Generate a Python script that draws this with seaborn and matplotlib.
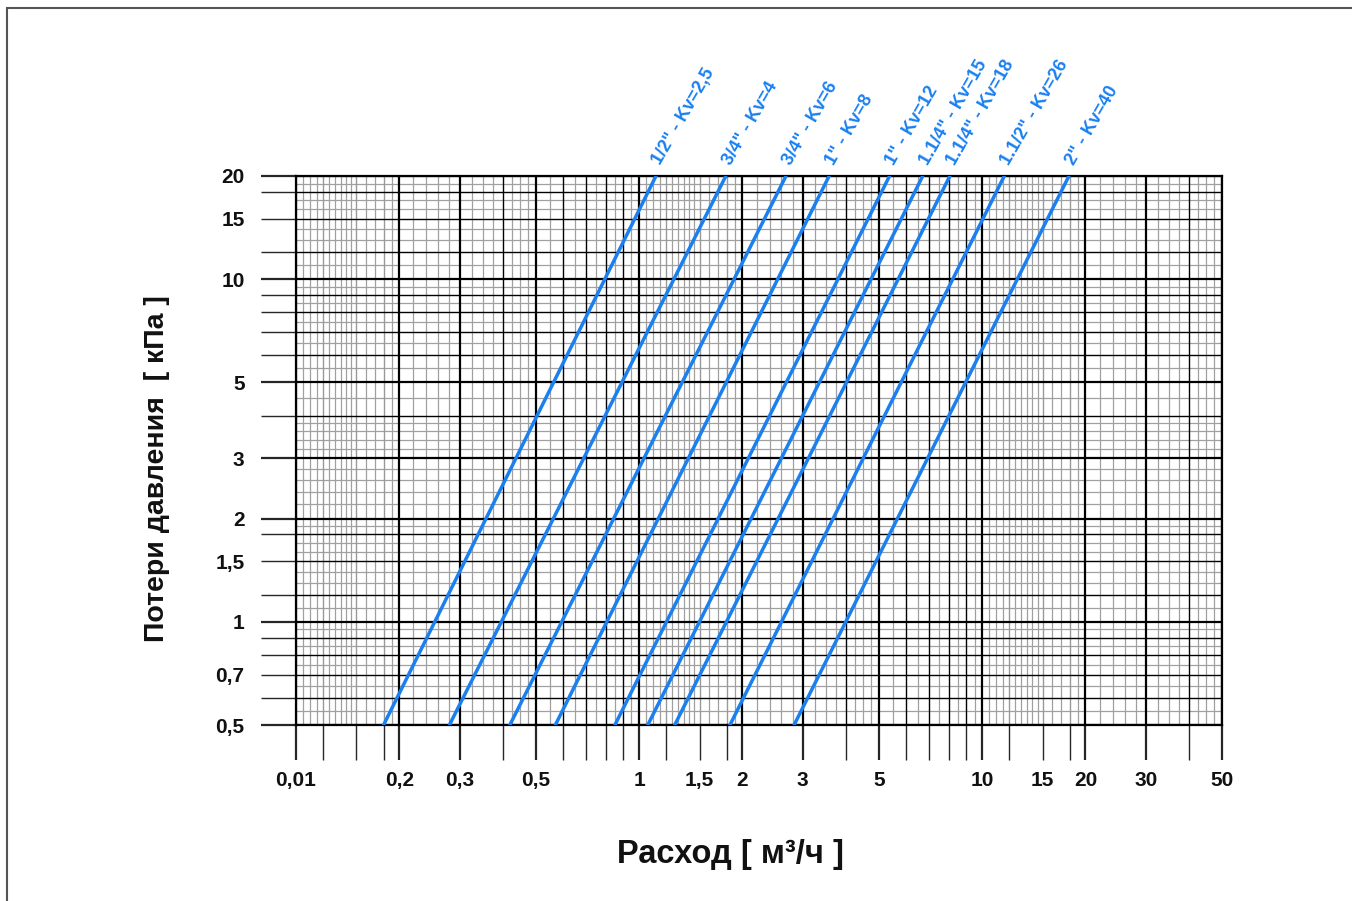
import numpy as np
import pandas as pd
import matplotlib
matplotlib.use('Agg')
import matplotlib.pyplot as plt
import seaborn as sns

# --- Data: valve sizes and line end points ---
sizes = ['1/2" - Kv=2,5', '3/4" - Kv=4', '3/4" - Kv=6', '1" - Kv=8', '1" - Kv=12',
         '1.1/4" - Kv=15', '1.1/4" - Kv=18', '1.1/2" - Kv=26', '2" - Kv=40']
flow_low = [0.18, 0.28, 0.42, 0.57, 0.85, 1.06, 1.27, 1.84, 2.83]    # m3/h at 0.5 kPa
flow_high = [1.12, 1.79, 2.68, 3.58, 5.37, 6.71, 8.05, 11.6, 17.9]   # m3/h at 20 kPa
dp_low = 0.5
dp_high = 20

x_ticks = [0.1, 0.2, 0.3, 0.5, 1, 1.5, 2, 3, 5, 10, 15, 20, 30, 50]
x_labels = ['0,01', '0,2', '0,3', '0,5', '1', '1,5', '2', '3', '5', '10', '15', '20', '30', '50']
y_ticks = [0.5, 0.7, 1, 1.5, 2, 3, 5, 10, 15, 20]
y_labels = ['0,5', '0,7', '1', '1,5', '2', '3', '5', '10', '15', '20']

blue = '#1a80f0'

# --- Grid layout (log paper) ---
x_thick = [0.1, 0.2, 0.3, 0.5, 1, 2, 3, 5, 10, 20, 30, 50]
x_mid = [0.4, 0.6, 0.7, 0.8, 0.9, 4, 6, 7, 8, 9, 40]
x_graytick = [0.12, 0.15, 0.18, 1.2, 1.5, 1.8, 12, 15, 18]
dec_minor_x = (list(np.arange(1.05, 1.5, 0.05)) + [1.6, 1.7, 1.9, 2.2, 2.4, 2.6, 2.8,
               3.25, 3.5, 3.75, 4.25, 4.5, 4.75, 5.5, 6.5, 7.5, 8.5, 9.5])
x_minor = [d * m for d in (0.1, 1, 10) for m in dec_minor_x
           if d * m < 50 and not any(abs(d * m - g) < 1e-9 for g in x_graytick)]

y_thick = [0.5, 1, 2, 3, 5, 10, 20]
y_mid = [0.6, 0.7, 0.8, 0.9, 1.2, 1.5, 1.8, 4, 6, 7, 8, 9, 12, 15, 18]
dec_minor_y = [1.1, 1.3, 1.4, 1.6, 1.7, 1.9, 2.2, 2.4, 2.6, 2.8, 3.2, 3.4, 3.6, 3.8,
               4.5, 5.5, 6.5, 7.5, 8.5, 9.5]
y_minor = [d * m for d in (0.1, 1, 10) for m in dec_minor_y if 0.5 < d * m < 20]

sns.set_style("white")
plt.rcParams['font.family'] = ['Liberation Sans', 'DejaVu Sans']

fig = plt.figure(figsize=(13.52, 9.01), dpi=100)
ax = fig.add_axes([296 / 1352, 1 - 725 / 901, 926 / 1352, 549 / 901])

df = pd.DataFrame({
    'flow': flow_low + flow_high,
    'dp': [dp_low] * len(sizes) + [dp_high] * len(sizes),
    'size': sizes * 2,
})
sns.lineplot(data=df, x='flow', y='dp', hue='size', hue_order=sizes,
             palette=[blue] * len(sizes), legend=False, linewidth=2.5,
             estimator=None, ax=ax, zorder=5)

ax.set_xscale('log')
ax.set_yscale('log')
ax.set_xlim(0.1, 50)
ax.set_ylim(0.5, 20)

# grid
for v in x_minor:
    ax.axvline(v, color='#a0a0a0', lw=0.9, zorder=1)
for v in y_minor:
    ax.axhline(v, color='#a0a0a0', lw=0.9, zorder=1)
for v in x_graytick:
    ax.axvline(v, color='#999999', lw=1.0, zorder=1)
for v in x_mid:
    ax.axvline(v, color='black', lw=1.0, zorder=2)
for v in y_mid:
    ax.axhline(v, color='black', lw=1.0, zorder=2)
for v in x_thick:
    ax.axvline(v, color='black', lw=1.6, zorder=2)
for v in y_thick:
    ax.axhline(v, color='black', lw=1.6, zorder=2)

# ticks (long tick marks extend out of the frame)
xt = x_thick + x_mid + x_graytick
xl = [x_labels[x_ticks.index(v)] if v in x_ticks else '' for v in xt]
ax.set_xticks(xt, labels=xl)
yt = y_thick + y_mid
yl = [y_labels[y_ticks.index(v)] if v in y_ticks else '' for v in yt]
ax.set_yticks(yt, labels=yl)
ax.xaxis.set_minor_locator(matplotlib.ticker.NullLocator())
ax.yaxis.set_minor_locator(matplotlib.ticker.NullLocator())
ax.tick_params(axis='x', direction='out', length=25, pad=8, bottom=True,
               labelsize=15, labelcolor='#111111')
ax.tick_params(axis='y', direction='out', length=25, pad=12, left=True,
               labelsize=15, labelcolor='#111111')
for t, v in zip(ax.xaxis.get_major_ticks(), xt):
    if v in x_thick:
        t.tick1line.set_markeredgewidth(1.6)
    elif v in x_mid:
        t.tick1line.set_markeredgewidth(1.0)
    else:
        t.tick1line.set_markeredgewidth(1.0)
        t.tick1line.set_color('#a0a0a0')
for t, v in zip(ax.yaxis.get_major_ticks(), yt):
    t.tick1line.set_markeredgewidth(1.6 if v in y_thick else 1.0)
for lab in ax.get_xticklabels() + ax.get_yticklabels():
    lab.set_fontweight('bold')

for s in ax.spines.values():
    s.set_color('black')
    s.set_linewidth(1.6)

# line labels
for s, q in zip(sizes, flow_high):
    ax.annotate(s, xy=(q, dp_high), xytext=(6, 6), textcoords='offset points',
                rotation=60, rotation_mode='anchor', ha='left', va='bottom',
                color=blue, fontsize=13, fontweight='bold', annotation_clip=False)

ax.set_xlabel('Расход [ м³/ч ]', fontsize=23.5, fontweight='bold', color='#111111')
ax.xaxis.set_label_coords(0.469, -0.208)
ax.set_ylabel('Потери давления  [ кПа ]', fontsize=20.5, fontweight='bold', color='#111111')
ax.yaxis.set_label_coords(-0.136, 0.468)

# outer frame of the picture
fig.add_artist(plt.Rectangle((7 / 1352, -0.1), 1.2, 1 - 7.5 / 901 + 0.1,
                             transform=fig.transFigure, fill=False,
                             ec='#555555', lw=1.5))

fig.savefig('out.png', dpi=100)
